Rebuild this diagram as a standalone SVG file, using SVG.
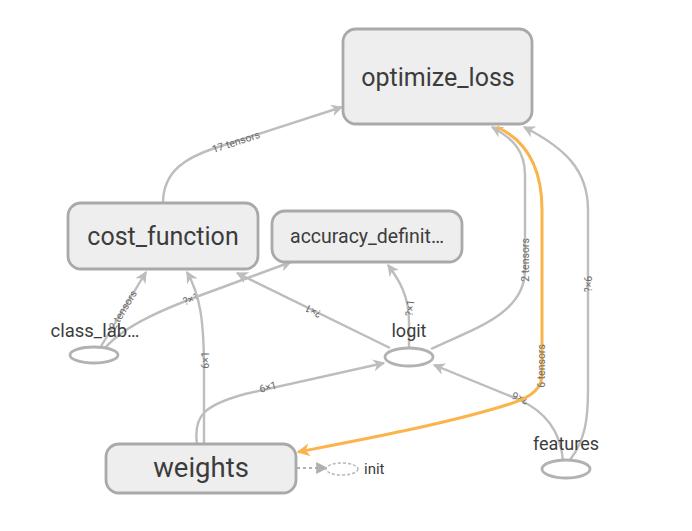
<svg xmlns="http://www.w3.org/2000/svg" width="692" height="531" viewBox="0 0 692 531">
<defs>
<style>
.node rect{fill:#eeeeee;stroke:#a9a9a9;stroke-width:2.8}
.op ellipse{fill:#ffffff;stroke:#b2b2b2;stroke-width:2.8}
.nl{font-family:Roboto,"Liberation Sans",sans-serif;fill:#3c3c3c;text-anchor:middle}
.edge{fill:none;stroke:#bdbdbd;stroke-width:2.4}
.ref{fill:none;stroke:#fbb44c;stroke-width:3}
.el{font-family:Roboto,"Liberation Sans",sans-serif;font-size:10.5px;fill:#6b6b6b;text-anchor:middle}
</style>
<marker id="ag" viewBox="0 0 10 10" refX="9" refY="5" markerWidth="12" markerHeight="12" markerUnits="userSpaceOnUse" orient="auto"><path d="M0,0 L10,5 L0,10 L3,5 z" fill="#bdbdbd"/></marker>
<marker id="ao" viewBox="0 0 10 10" refX="9" refY="5" markerWidth="13" markerHeight="13" markerUnits="userSpaceOnUse" orient="auto"><path d="M0,0 L10,5 L0,10 L3,5 z" fill="#fbb44c"/></marker>
<marker id="ad" viewBox="0 0 10 10" refX="9" refY="5" markerWidth="12" markerHeight="12" markerUnits="userSpaceOnUse" orient="auto"><path d="M0,0 L10,5 L0,10 z" fill="#b0b0b0"/></marker>
</defs>
<rect width="692" height="531" fill="#ffffff"/>
<g id="connectors">
<path class="edge" d="M163,203 C163,170 188,157 215,148 L342,107" marker-end="url(#ag)"/>
<text class="el" transform="translate(236,142) rotate(-18)" dy="3.5">17 tensors</text>
<path class="edge" d="M100,348 L146,272" marker-end="url(#ag)"/>
<text class="el" transform="translate(123,310) rotate(-59)" dy="3.5">2 tensors</text>
<path class="edge" d="M105,348 C125,325 165,308 215,290 L291,262" marker-end="url(#ag)"/>
<text class="el" transform="translate(191,299) rotate(-22)" dy="3.5">?×1</text>
<path class="edge" d="M204,444 L204,370 C204,320 200,295 187,272" marker-end="url(#ag)"/>
<text class="el" transform="translate(205,360) rotate(-90)" dy="3.5">6×1</text>
<path class="edge" d="M390,348 L237,273" marker-end="url(#ag)"/>
<text class="el" transform="translate(313,311) rotate(206)" dy="3.5">?×1</text>
<path class="edge" d="M409,347 L409,322 C409,297 400,281 388,265" marker-end="url(#ag)"/>
<text class="el" transform="translate(410,308) rotate(-84)" dy="3.5">?×1</text>
<path class="edge" d="M431,349 C470,330 525,315 525,270 L525,175 C525,150 512,138 492,127" marker-end="url(#ag)"/>
<text class="el" transform="translate(525,260) rotate(-90)" dy="3.5">2 tensors</text>
<path class="edge" d="M563,460 C560,430 545,412 520,400 L434,365" marker-end="url(#ag)"/>
<text class="el" transform="translate(520,398) rotate(203)" dy="3.5">?×6</text>
<path class="edge" d="M570,460 C585,440 588,420 588,390 L588,210 C588,170 565,148 524,127" marker-end="url(#ag)"/>
<text class="el" transform="translate(588,284) rotate(-90)" dy="3.5">?×6</text>
<path class="edge" d="M197,444 C193,415 205,405 245,394 L384,363" marker-end="url(#ag)"/>
<text class="el" transform="translate(268,387) rotate(-15)" dy="3.5">6×1</text>
<path class="ref" d="M497,127 C525,140 542,165 542,210 L542,375 C542,392 525,400 500,407 C440,425 360,440 298,452" marker-end="url(#ao)"/>
<text class="el" transform="translate(541,366) rotate(-90)" dy="3.5">6 tensors</text>
<path d="M297,468 L327,468" fill="none" stroke="#b0b0b0" stroke-width="2" stroke-dasharray="3,3" marker-end="url(#ad)"/>
</g>
<g id="optimize_loss" class="node"><rect x="343" y="29" width="189" height="95" rx="13"/><text class="nl" x="438" y="86" font-size="25">optimize_loss</text></g>
<g id="cost_function" class="node"><rect x="68" y="203" width="190" height="66" rx="13"/><text class="nl" x="163" y="245" font-size="25">cost_function</text></g>
<g id="accuracy_definition" class="node"><rect x="272" y="211" width="190" height="51" rx="13"/><text class="nl" x="367" y="243" font-size="19.5">accuracy_definit…</text></g>
<g id="weights" class="node"><rect x="106" y="444" width="190" height="49" rx="13"/><text class="nl" x="201" y="477" font-size="27.5">weights</text></g>
<g id="class_label" class="op"><ellipse cx="94" cy="355" rx="24" ry="8"/><text class="nl" x="95" y="337" font-size="18.5">class_lab…</text></g>
<g id="logit" class="op"><ellipse cx="409" cy="357" rx="24" ry="9"/><text class="nl" x="409" y="337" font-size="18">logit</text></g>
<g id="features" class="op"><ellipse cx="566" cy="469" rx="24" ry="9"/><text class="nl" x="566" y="450" font-size="18">features</text></g>
<g id="init"><ellipse cx="342" cy="469" rx="16" ry="6" fill="#ffffff" stroke="#b8b8b8" stroke-width="1.5" stroke-dasharray="3,2"/><text x="364" y="474" font-family="Roboto, 'Liberation Sans', sans-serif" font-size="15" fill="#3c3c3c">init</text></g>
</svg>
